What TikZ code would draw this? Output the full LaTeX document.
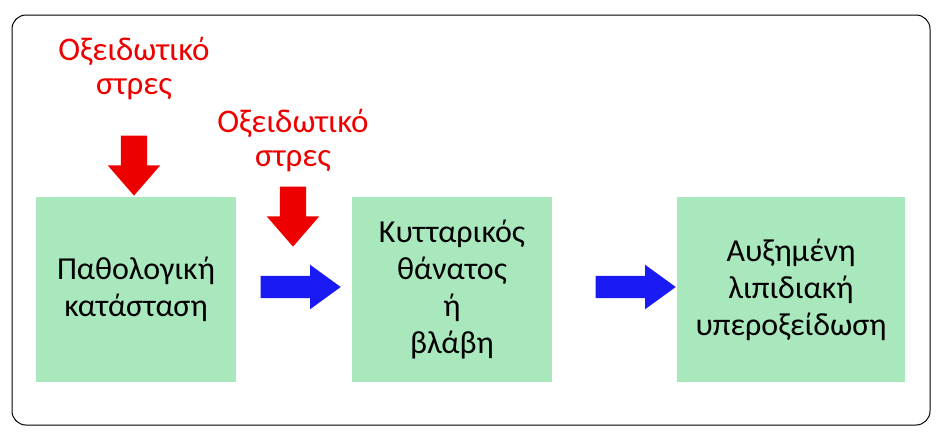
\documentclass[tikz,border=0pt]{standalone}
\usepackage{fontspec}
\setmainfont{Carlito}
\usetikzlibrary{positioning,shapes.arrows}

\definecolor{boxgreen}{HTML}{A9E8BC}
\definecolor{stressred}{HTML}{EE0000}
\definecolor{flowblue}{HTML}{1A1AF5}

\begin{document}
\begin{tikzpicture}[x=1pt,y=-1pt,
  stage/.style={fill=boxgreen,minimum width=#1,minimum height=185pt,align=center,font=\fontsize{32}{37}\selectfont},
  stress/.style={text=stressred,align=center,font=\fontsize{33}{34}\selectfont},
  downarrow/.style={single arrow,fill=stressred,shape border rotate=270,inner sep=13pt,minimum width=52pt,single arrow head extend=13pt,single arrow tip angle=82,minimum height=60pt},
  flowarrow/.style={single arrow,fill=flowblue,inner sep=11pt,minimum width=44pt,single arrow head extend=11pt,single arrow tip angle=72,minimum height=80pt}]
\useasboundingbox (0,0) rectangle (942,442);
\draw[rounded corners=14pt,line width=1pt] (12,15) rectangle (930,425);
% stages
\node[stage=200pt] (patho) at (136,289.5) {Παθολογική\\κατάσταση};
\node[stage=200pt] (death) at (452,289.5) {Κυτταρικός\\θάνατος\\ή\\βλάβη};
\node[stage=228pt] (lipid) at (791,289.5) {Αυξημένη\\λιπιδιακή\\υπεροξείδωση};
% flow
\node[flowarrow] (flowa) at (293,287) {};
\node[flowarrow] (flowb) at (628,287) {};
% stress
\node[stress] (stressa) at (134,69) {Οξειδωτικό\\στρες};
\node[downarrow] (downa) at (134,158) {};
\node[stress] (stressb) at (293,141) {Οξειδωτικό\\στρες};
\node[downarrow] (downb) at (293,209) {};
\end{tikzpicture}
\end{document}
